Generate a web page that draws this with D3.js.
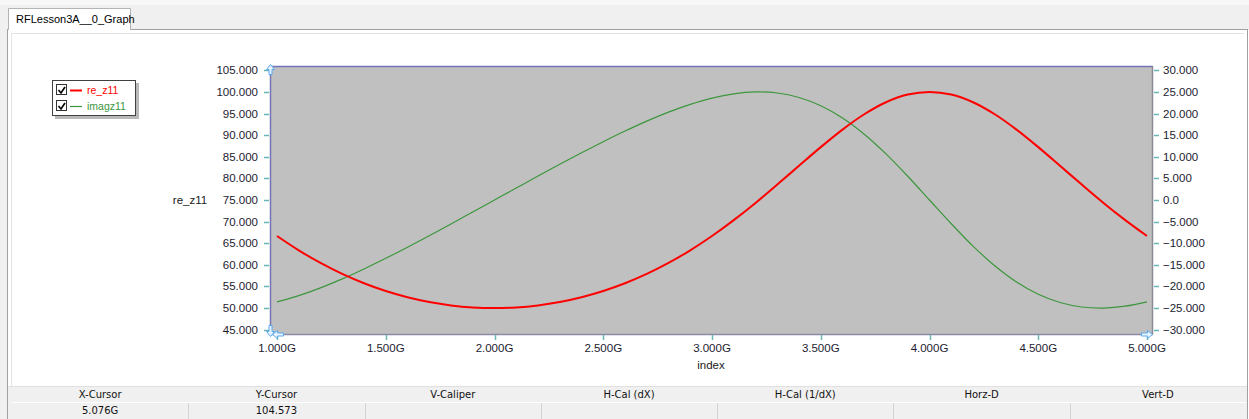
<!DOCTYPE html>
<html><head><meta charset="utf-8">
<script src="https://cdn.jsdelivr.net/npm/d3@7/dist/d3.min.js"></script>
<style>
html,body{margin:0;padding:0;background:#fff;}
svg{display:block;font-family:"Liberation Sans",Arial,sans-serif;}
</style></head>
<body><svg id="chart" width="1249" height="419"></svg>
<script>
const freqsG = [1.0,1.1,1.2,1.3,1.4,1.5,1.6,1.7,1.8,1.9,2.0,2.1,2.2,2.3,2.4,2.5,2.6,2.7,2.8,2.9,3.0,3.1,3.2,3.3,3.4,3.5,3.6,3.7,3.8,3.9,4.0,4.1,4.2,4.3,4.4,4.5,4.6,4.7,4.8,4.9,5.0];
const reZ11 = [66.67,63.36,60.44,57.90,55.74,53.95,52.51,51.40,50.62,50.15,50.00,50.15,50.62,51.40,52.51,53.95,55.74,57.90,60.44,63.36,66.67,70.34,74.32,78.56,82.92,87.23,91.29,94.84,97.62,99.40,100.00,99.40,97.62,94.84,91.29,87.23,82.92,78.56,74.32,70.34,66.67];
const imagZ11 = [-23.58,-22.13,-20.33,-18.25,-15.95,-13.49,-10.91,-8.25,-5.53,-2.77,0.00,2.77,5.53,8.25,10.91,13.49,15.95,18.25,20.33,22.13,23.58,24.57,25.00,24.75,23.72,21.81,18.98,15.23,10.67,5.50,0.00,-5.50,-10.67,-15.23,-18.98,-21.81,-23.72,-24.75,-25.00,-24.57,-23.58];
const xTicks = [1.0,1.5,2.0,2.5,3.0,3.5,4.0,4.5,5.0];
const leftTicks = [45,50,55,60,65,70,75,80,85,90,95,100,105];
const rightTicks = [-30,-25,-20,-15,-10,-5,0,5,10,15,20,25,30];
const seriesNames = ["re_z11","imagz11"];
const seriesColors = ["#ff0000","#3c963c"];
const tableHeaders = ["X-Cursor","Y-Cursor","V-Caliper","H-Cal (dX)","H-Cal (1/dX)","Horz-D","Vert-D"];
const tableValues = ["5.076G","104.573","","","","",""];
const tabTitle = "RFLesson3A__0_Graph";

const svg = d3.select("#chart");
const P = {l:270, r:1153, t:66, b:334};
const x = d3.scaleLinear().domain([1,5]).range([277,1147]);
const yL = d3.scaleLinear().domain([44,106]).range([P.b,P.t]);
const yR = d3.scaleLinear().domain([-31,31]).range([P.b,P.t]);

// window chrome
svg.append("rect").attr("x",0).attr("y",0).attr("width",1249).attr("height",419).attr("fill","#ffffff");
svg.append("rect").attr("x",0).attr("y",5).attr("width",1249).attr("height",25).attr("fill","#f0f0f0");
svg.append("rect").attr("x",0).attr("y",0).attr("width",1249).attr("height",5).attr("fill","#f7f7f7");
svg.append("rect").attr("x",0).attr("y",5).attr("width",7).attr("height",414).attr("fill","#f0f0f0");
svg.append("line").attr("x1",7.5).attr("x2",7.5).attr("y1",30).attr("y2",419).attr("stroke","#a0a0a0");
svg.append("line").attr("x1",1247.5).attr("x2",1247.5).attr("y1",30).attr("y2",419).attr("stroke","#a0a0a0");
svg.append("line").attr("x1",7).attr("x2",1248).attr("y1",29.5).attr("y2",29.5).attr("stroke","#a0a0a0");
svg.append("line").attr("x1",12).attr("x2",1244).attr("y1",33.5).attr("y2",33.5).attr("stroke","#e3e3e3");
svg.append("line").attr("x1",11.5).attr("x2",11.5).attr("y1",33).attr("y2",386).attr("stroke","#e3e3e3");
// tab
svg.append("path").attr("d","M8.5,30 V8.5 H130.5 V30").attr("fill","#ffffff").attr("stroke","#b4b4b4");
svg.append("line").attr("x1",9).attr("x2",130).attr("y1",29.5).attr("y2",29.5).attr("stroke","#ffffff");
svg.append("text").attr("x",16).attr("y",23).attr("font-size",11).attr("fill","#000").text(tabTitle);

// plot area
svg.append("rect").attr("x",P.l).attr("y",P.t).attr("width",P.r-P.l).attr("height",P.b-P.t).attr("fill","#c0c0c0");
svg.append("line").attr("x1",P.l).attr("x2",P.r).attr("y1",P.t+0.5).attr("y2",P.t+0.5).attr("stroke","#7474b8").attr("stroke-width",1.5);
svg.append("line").attr("x1",P.l+0.5).attr("x2",P.l+0.5).attr("y1",P.t).attr("y2",P.b).attr("stroke","#7474b8").attr("stroke-width",1.5);
svg.append("line").attr("x1",P.l).attr("x2",P.r).attr("y1",P.b+0.5).attr("y2",P.b+0.5).attr("stroke","#8a8aa4").attr("stroke-width",1.5);
svg.append("line").attr("x1",P.r-0.5).attr("x2",P.r-0.5).attr("y1",P.t).attr("y2",P.b).attr("stroke","#8a8a96").attr("stroke-width",1.5);

const tickCol = "#6ab5b5", labCol = "#1c1c30";
// left axis
const gl = svg.append("g");
leftTicks.forEach(v=>{
  gl.append("line").attr("x1",264).attr("x2",269).attr("y1",Math.round(yL(v))+0.5).attr("y2",Math.round(yL(v))+0.5).attr("stroke",tickCol).attr("stroke-width",1.5);
  gl.append("text").attr("x",258).attr("y",yL(v)).attr("dy","0.35em").attr("text-anchor","end").attr("font-size",11.5).attr("fill",labCol).text(d3.format(".3f")(v));
});
// right axis
const gr = svg.append("g");
rightTicks.forEach(v=>{
  gr.append("line").attr("x1",1154).attr("x2",1159).attr("y1",Math.round(yR(v))+0.5).attr("y2",Math.round(yR(v))+0.5).attr("stroke",tickCol).attr("stroke-width",1.5);
  gr.append("text").attr("x",1163).attr("y",yR(v)).attr("dy","0.35em").attr("font-size",11.5).attr("fill",labCol).text(v===0?"0.0":d3.format(".3f")(v));
});
// x axis
const gx = svg.append("g");
xTicks.forEach(v=>{
  gx.append("line").attr("x1",Math.round(x(v))+0.5).attr("x2",Math.round(x(v))+0.5).attr("y1",335).attr("y2",340).attr("stroke",tickCol).attr("stroke-width",1.5);
  gx.append("text").attr("x",x(v)).attr("y",352).attr("text-anchor","middle").attr("font-size",11.5).attr("fill",labCol).text(d3.format(".3f")(v)+"G");
});
svg.append("text").attr("x",711).attr("y",369).attr("text-anchor","middle").attr("font-size",11.5).attr("fill","#202020").text("index");
svg.append("text").attr("x",190).attr("y",204).attr("text-anchor","middle").attr("font-size",11.5).attr("fill","#202020").text("re_z11");

// curves
svg.append("clipPath").attr("id","pc").append("rect").attr("x",P.l+1).attr("y",P.t+1).attr("width",P.r-P.l-2).attr("height",P.b-P.t-2);
const lineG = d3.line().curve(d3.curveCatmullRom).x((d,i)=>x(freqsG[i])).y(d=>yR(d));
const lineR = d3.line().curve(d3.curveCatmullRom).x((d,i)=>x(freqsG[i])).y(d=>yL(d));
svg.append("path").attr("clip-path","url(#pc)").attr("d",lineG(imagZ11)).attr("fill","none").attr("stroke",seriesColors[1]).attr("stroke-width",1.2);
svg.append("path").attr("clip-path","url(#pc)").attr("d",lineR(reZ11)).attr("fill","none").attr("stroke",seriesColors[0]).attr("stroke-width",2);

// corner arrows
const arr = "#5aaaf0";
function arrow(d){svg.append("path").attr("d",d).attr("fill","#e8f4ff").attr("stroke",arr).attr("stroke-width",1);}
arrow("M270.5,64.5 l-4,5 h2.5 v5 h3 v-5 h2.5 z");
arrow("M270.5,336.5 l-4,-5 h2.5 v-6 h3 v6 h2.5 z");
arrow("M272.5,334.5 l5,-4 v2.5 h6 v3 h-6 v2.5 z");
arrow("M1152.5,334.5 l-5,-4 v2.5 h-6 v3 h6 v2.5 z");

// legend
svg.append("rect").attr("x",55).attr("y",83).attr("width",84).attr("height",36).attr("fill","#8a8a8a").attr("opacity",0.6);
svg.append("rect").attr("x",52.5).attr("y",80.5).attr("width",83).attr("height",35).attr("fill","#ffffff").attr("stroke","#404040");
seriesNames.forEach((n,i)=>{
  const yy = 90 + i*16;
  svg.append("rect").attr("x",56.5).attr("y",yy-5.5).attr("width",10).attr("height",10).attr("fill","#fff").attr("stroke","#333");
  svg.append("path").attr("d",`M58.5,${yy} l2.5,3 l4,-6`).attr("fill","none").attr("stroke","#000").attr("stroke-width",1.6);
  svg.append("line").attr("x1",70).attr("x2",82).attr("y1",yy+0.5).attr("y2",yy+0.5).attr("stroke",seriesColors[i]).attr("stroke-width",i===0?2:1.2);
  svg.append("text").attr("x",87).attr("y",yy).attr("dy","0.35em").attr("font-size",10.5).attr("fill",seriesColors[i]).text(n);
});

// bottom table
const tx0 = 12, cw = (1246-12)/7;
svg.append("rect").attr("x",8).attr("y",386).attr("width",1239).attr("height",33).attr("fill","#f0f0f0");
svg.append("line").attr("x1",8).attr("x2",1247).attr("y1",386.5).attr("y2",386.5).attr("stroke","#e0e0e0");
svg.append("line").attr("x1",tx0).attr("x2",1246).attr("y1",402.5).attr("y2",402.5).attr("stroke","#ffffff");
tableHeaders.forEach((h,i)=>{
  const cx = tx0 + cw*i + cw/2;
  svg.append("text").attr("x",cx).attr("y",398).attr("text-anchor","middle").attr("font-family","'DejaVu Sans',sans-serif").attr("font-size",10).attr("fill","#111").text(h);
  svg.append("text").attr("x",cx).attr("y",414).attr("text-anchor","middle").attr("font-family","'DejaVu Sans',sans-serif").attr("font-size",10).attr("fill","#111").text(tableValues[i]);
  if(i>0) svg.append("line").attr("x1",Math.round(tx0+cw*i)+0.5).attr("x2",Math.round(tx0+cw*i)+0.5).attr("y1",403).attr("y2",419).attr("stroke","#d4d4d4");
});
</script></body></html>
